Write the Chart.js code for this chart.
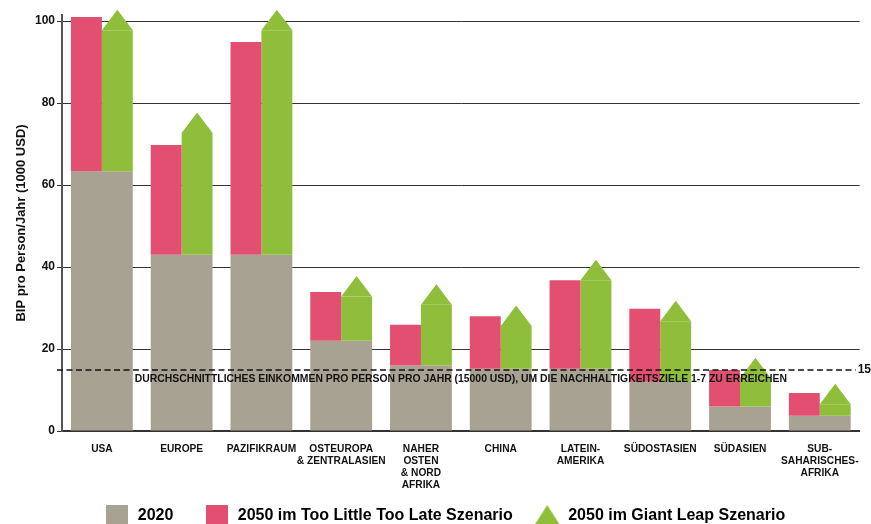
<!DOCTYPE html>
<html>
<head>
<meta charset="utf-8">
<script src="https://cdn.jsdelivr.net/npm/chart.js@4.4.0/dist/chart.umd.min.js"></script>
<style>
  html, body { margin: 0; padding: 0; background: #fff; overflow: hidden; }
</style>
</head>
<body>
<canvas id="myChart" width="871" height="534"></canvas>
<script>
// data (1000 USD per person and year)
const categories = [
  ["USA"],
  ["EUROPE"],
  ["PAZIFIKRAUM"],
  ["OSTEUROPA", "& ZENTRALASIEN"],
  ["NAHER", "OSTEN", "& NORD", "AFRIKA"],
  ["CHINA"],
  ["LATEIN-", "AMERIKA"],
  ["SÜDOSTASIEN"],
  ["SÜDASIEN"],
  ["SUB-", "SAHARISCHES-", "AFRIKA"]
];
const values2020 = [63.4, 43, 43, 22, 16, 15.2, 15.2, 12, 6, 3.7];
const valuesTooLittleTooLate = [101, 69.8, 94.9, 33.9, 25.9, 28, 36.8, 29.8, 14.9, 9.3];
const valuesGiantLeap = [97.8, 72.7, 97.8, 32.8, 30.8, 25.6, 36.8, 26.8, 12.9, 6.5];
const yTicks = [0, 20, 40, 60, 80, 100];
const threshold = 15;
const thresholdLabel = "DURCHSCHNITTLICHES EINKOMMEN PRO PERSON PRO JAHR (15000 USD), UM DIE NACHHALTIGKEITSZIELE 1-7 ZU ERREICHEN";
const seriesNames = ["2020", "2050 im Too Little Too Late Szenario", "2050 im Giant Leap Szenario"];

const FONT = "'Liberation Sans', Arial, sans-serif";
const GRAY = "#a8a292";
const PINK = "#e34f71";
const GREEN = "#8fbf3a";

// floating bars start on top of the 2020 value
const tooLateBars = valuesTooLittleTooLate.map(function (v, i) { return [values2020[i], v]; });
const giantLeapBars = valuesGiantLeap.map(function (v, i) { return [values2020[i], v]; });

function boxIcon(color, w, h) {
  const c = document.createElement("canvas");
  c.width = w;
  c.height = h;
  const g = c.getContext("2d");
  g.fillStyle = color;
  g.fillRect(0, 0, w, h);
  return c;
}

function triangleIcon(color, w, h) {
  const c = document.createElement("canvas");
  c.width = w;
  c.height = h;
  const g = c.getContext("2d");
  g.fillStyle = color;
  g.beginPath();
  g.moveTo(0, h);
  g.lineTo(w / 2, 0);
  g.lineTo(w, h);
  g.closePath();
  g.fill();
  return c;
}

const legendIcons = [boxIcon(GRAY, 22, 22), boxIcon(PINK, 22, 22), triangleIcon(GREEN, 28, 22)];
// extra space after each legend text, so the items sit as far apart as in the picture
const legendGaps = ["   ", " ", ""];

// arrow heads on the giant leap bars
const arrowHeads = {
  id: "arrowHeads",
  afterDatasetsDraw(chart) {
    const ctx = chart.ctx;
    const meta = chart.getDatasetMeta(2);
    ctx.save();
    ctx.fillStyle = GREEN;
    meta.data.forEach(function (bar) {
      const p = bar.getProps(["x", "y", "width"], true);
      const half = p.width / 2;
      ctx.beginPath();
      ctx.moveTo(p.x - half, p.y);
      ctx.lineTo(p.x, p.y - 20.5);
      ctx.lineTo(p.x + half, p.y);
      ctx.closePath();
      ctx.fill();
    });
    ctx.restore();
  }
};

// dashed 15 line with its caption
const thresholdLine = {
  id: "thresholdLine",
  afterDatasetsDraw(chart) {
    const ctx = chart.ctx;
    const area = chart.chartArea;
    const y = Math.round(chart.scales.y.getPixelForValue(threshold));
    ctx.save();
    ctx.strokeStyle = "#111";
    ctx.lineWidth = 1.5;
    ctx.setLineDash([6, 3.5]);
    ctx.beginPath();
    ctx.moveTo(area.left - 5, y);
    ctx.lineTo(area.right - 4, y);
    ctx.stroke();
    ctx.setLineDash([]);
    ctx.fillStyle = "#111";
    ctx.font = "bold 10.4px " + FONT;
    ctx.textAlign = "center";
    ctx.textBaseline = "middle";
    ctx.fillText(thresholdLabel, (area.left + area.right) / 2, y + 9.5);
    ctx.font = "bold 12px " + FONT;
    ctx.textAlign = "left";
    ctx.fillText(String(threshold), area.right - 2, y);
    ctx.restore();
  }
};

const ctx = document.getElementById("myChart").getContext("2d");

const myChart = new Chart(ctx, {
  type: "bar",
  data: {
    labels: categories,
    datasets: [
      {
        label: seriesNames[0],
        data: values2020,
        backgroundColor: GRAY,
        grouped: false,
        order: 1
      },
      {
        label: seriesNames[1],
        data: tooLateBars,
        backgroundColor: PINK,
        order: 0
      },
      {
        label: seriesNames[2],
        data: giantLeapBars,
        backgroundColor: GREEN,
        order: 0
      }
    ]
  },
  options: {
    responsive: false,
    animation: false,
    datasets: {
      bar: {
        categoryPercentage: 0.775,
        barPercentage: 1,
        borderWidth: 0
      }
    },
    layout: {
      padding: { top: 15, left: 27, right: 9, bottom: 0 }
    },
    scales: {
      x: {
        grid: { display: false, drawTicks: false },
        border: { display: true, color: "#333", width: 2 },
        ticks: {
          color: "#111",
          padding: 12,
          maxRotation: 0,
          autoSkip: false,
          font: { family: FONT, size: 10.2, weight: "bold", lineHeight: 1.18 }
        },
        afterFit: function (scale) {
          scale.height = 60;
        }
      },
      y: {
        min: 0,
        max: 101.5,
        afterBuildTicks: function (scale) {
          scale.ticks = yTicks.map(function (v) { return { value: v }; });
        },
        grid: { color: "#333", lineWidth: 1, tickLength: 5 },
        border: { display: true, color: "#555", width: 2 },
        ticks: {
          color: "#111",
          padding: 2,
          font: { family: FONT, size: 12, weight: "bold" }
        },
        title: {
          display: true,
          text: "BIP pro Person/Jahr (1000 USD)",
          color: "#111",
          padding: { top: -13, bottom: 0 },
          font: { family: FONT, size: 13, weight: "bold" }
        },
        afterFit: function (scale) {
          scale.width = 35;
        }
      }
    },
    plugins: {
      tooltip: { enabled: false },
      legend: {
        position: "bottom",
        labels: {
          usePointStyle: true,
          pointStyleWidth: 26,
          padding: 17,
          color: "#111",
          font: { family: FONT, size: 16, weight: "bold" },
          generateLabels: function (chart) {
            return chart.data.datasets.map(function (ds, i) {
              return {
                text: ds.label + legendGaps[i],
                fillStyle: ds.backgroundColor,
                strokeStyle: ds.backgroundColor,
                lineWidth: 0,
                pointStyle: legendIcons[i],
                hidden: false,
                datasetIndex: i
              };
            });
          }
        }
      }
    }
  },
  plugins: [arrowHeads, thresholdLine]
});
</script>
</body>
</html>
